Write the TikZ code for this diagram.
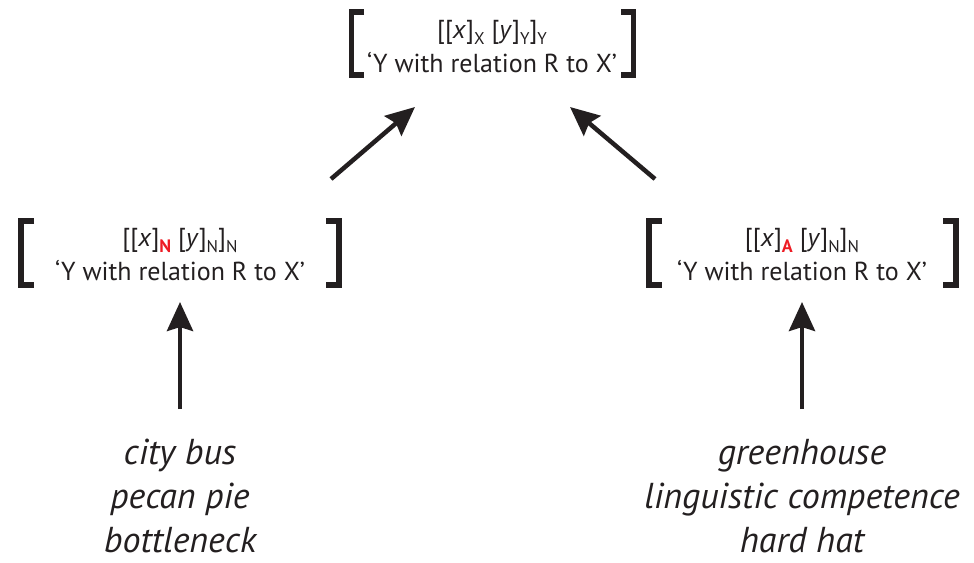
\documentclass[tikz,border=0pt]{standalone}
\usepackage{fontspec}
\setmainfont{PT Sans}
\usetikzlibrary{arrows.meta}
\definecolor{ink}{RGB}{35,31,32}
\definecolor{redsub}{RGB}{237,28,36}
\newcommand{\lsub}[1]{\raisebox{-6.5pt}{\fontsize{17}{17}\selectfont #1}}
\newcommand{\rsub}[1]{\raisebox{-6.5pt}{\fontsize{18}{18}\selectfont\bfseries\color{redsub}#1}}
\tikzset{
  boxtext/.style={anchor=base, text=ink, font=\fontsize{26}{33}\selectfont, inner sep=0pt},
  listtext/.style={anchor=base, text=ink, font=\fontsize{36}{44}\selectfont\itshape, inner sep=0pt},
  brk/.style={draw=ink, line width=5.5pt, line cap=butt, line join=miter},
  arr/.style={draw=ink, line width=4.5pt, -{Stealth[length=29pt,width=26pt,inset=4pt]}},
}
\begin{document}
\begin{tikzpicture}[x=1pt,y=-1pt]
\useasboundingbox (0,0) rectangle (974,562);
% top box
\node[boxtext] (t1) at (492,38) {[[\textit{x}]\lsub{X} [\textit{y}]\lsub{Y}]\lsub{Y}};
\node[boxtext] (t2) at (492,72) {‘Y with relation R to X’};
\draw[brk] (364,12) -- (351.5,12) -- (351.5,75) -- (364,75);
\draw[brk] (621,12) -- (633.5,12) -- (633.5,75) -- (621,75);
% left box
\node[boxtext] (l1) at (180,246) {[[\textit{x}]\rsub{N} [\textit{y}]\lsub{N}]\lsub{N}};
\node[boxtext] (l2) at (180,280) {‘Y with relation R to X’};
\draw[brk] (34,221) -- (21,221) -- (21,285) -- (34,285);
\draw[brk] (326,221) -- (339,221) -- (339,285) -- (326,285);
% right box
\node[boxtext] (r1) at (802,246) {[[\textit{x}]\rsub{A} [\textit{y}]\lsub{N}]\lsub{N}};
\node[boxtext] (r2) at (802,280) {‘Y with relation R to X’};
\draw[brk] (662,221) -- (649,221) -- (649,285) -- (662,285);
\draw[brk] (943,221) -- (956,221) -- (956,285) -- (943,285);
% lists
\node[listtext] (la) at (180,464) {city bus};
\node[listtext] (lb) at (180,508) {pecan pie};
\node[listtext] (lc) at (180,552) {bottleneck};
\node[listtext] (ra) at (802,464) {greenhouse};
\node[listtext] (rb) at (802,508) {linguistic competence};
\node[listtext] (rc) at (802,552) {hard hat};
% arrows
\coordinate (la0) at (331,179);
\coordinate (la1) at (415,107);
\coordinate (ra0) at (655,179);
\coordinate (ra1) at (570,107);
\coordinate (lv0) at (180,409);
\coordinate (lv1) at (180,302);
\coordinate (rv0) at (802,409);
\coordinate (rv1) at (802,302);
\draw[arr] (la0) -- (la1);
\draw[arr] (ra0) -- (ra1);
\draw[arr] (lv0) -- (lv1);
\draw[arr] (rv0) -- (rv1);
\end{tikzpicture}
\end{document}
